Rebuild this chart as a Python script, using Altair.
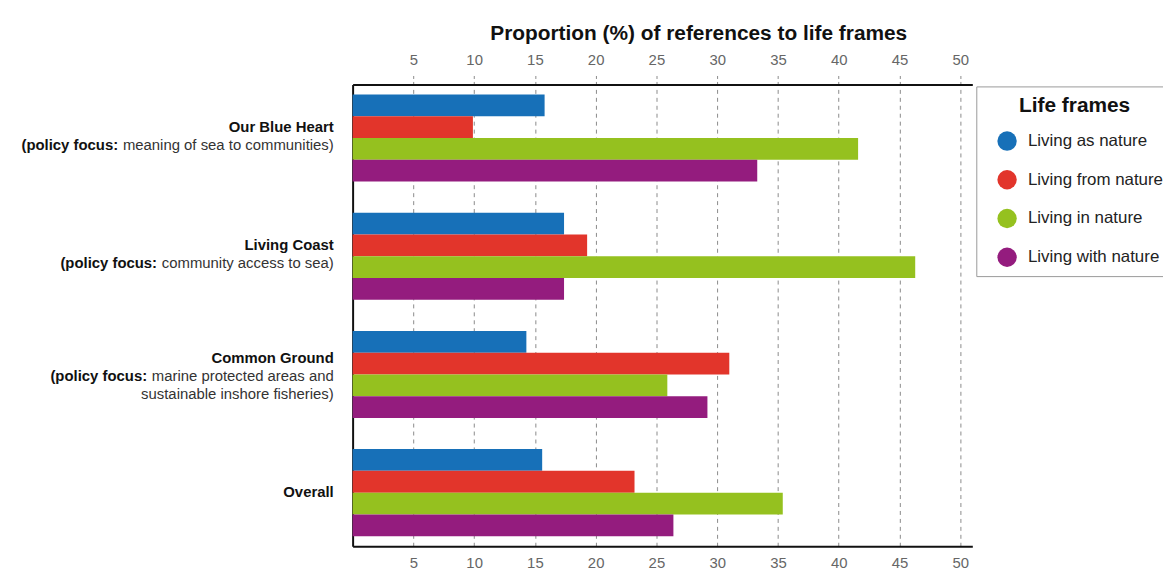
import altair as alt
import pandas as pd

groups = ["Our Blue Heart", "Living Coast", "Common Ground", "Overall"]
frames = ["Living as nature", "Living from nature", "Living in nature", "Living with nature"]
as_nature = [15.8, 17.4, 14.3, 15.6]
from_nature = [9.9, 19.3, 31.0, 23.2]
in_nature = [41.6, 46.3, 25.9, 35.4]
with_nature = [33.3, 17.4, 29.2, 26.4]
colors = ["#1770b8", "#e2352b", "#95c11f", "#941c7e"]
tick_values = [5, 10, 15, 20, 25, 30, 35, 40, 45, 50]

series = [as_nature, from_nature, in_nature, with_nature]
rows = []
for f, vals in zip(frames, series):
    for g, v in zip(groups, vals):
        rows.append({"group": g, "frame": f, "value": v})
df = pd.DataFrame(rows)

# label lines per group: (bold part, normal part)
label_lines = {
    "Our Blue Heart": [("Our Blue Heart", ""), ("(policy focus:", "meaning of sea to communities)")],
    "Living Coast": [("Living Coast", ""), ("(policy focus:", "community access to sea)")],
    "Common Ground": [("Common Ground", ""), ("(policy focus:", "marine protected areas and"),
                      ("", "sustainable inshore fisheries)")],
    "Overall": [("Overall", "")],
}

FONT = "Liberation Sans"
LABEL_SIZE = 15
W, H = 624, 465
XMAX = 51

# Arial / Liberation Sans regular advance widths (per 1000 em) for text measuring
_adv = dict(zip("abcdefghijklmnopqrstuvwxyz",
                [556, 556, 500, 556, 556, 278, 556, 556, 222, 222, 500, 222, 833,
                 556, 556, 556, 556, 333, 500, 278, 556, 500, 722, 500, 500, 500]))
_adv.update({" ": 278, "(": 333, ")": 333, ":": 278})


def text_width(s, size):
    return sum(_adv.get(c, 556) for c in s) * size / 1000.0


xscale = alt.Scale(domain=[0, XMAX], nice=False, zero=True)
yscale = alt.Scale(domain=groups, paddingInner=0.263, paddingOuter=0.085)

base = alt.Chart(df)

bars = base.mark_bar().encode(
    x=alt.X("value:Q", scale=xscale,
            axis=alt.Axis(orient="bottom", values=tick_values, title=None, grid=True,
                          gridDash=[4, 4], gridColor="#8a8a8a", gridWidth=1,
                          domainColor="#111", domainWidth=2, ticks=False,
                          labelPadding=9, labelFontSize=15, labelColor="#666",
                          labelFont=FONT)),
    y=alt.Y("group:N", scale=yscale, sort=groups,
            axis=alt.Axis(title=None, labels=False, ticks=False, domainColor="#111",
                          domainWidth=2, grid=False)),
    yOffset=alt.YOffset("frame:N", sort=frames, scale=alt.Scale(paddingInner=0, paddingOuter=0)),
    color=alt.Color("frame:N", sort=frames, scale=alt.Scale(domain=frames, range=colors),
                    legend=alt.Legend(orient="none", legendX=628, legendY=2,
                                      title="Life frames", titleFontSize=21,
                                      titleFontWeight="bold", titleColor="#111",
                                      titleFont=FONT, titleAnchor="middle", titlePadding=15,
                                      symbolType="circle", symbolSize=380,
                                      symbolStrokeWidth=0, symbolOffset=12,
                                      labelFontSize=17, labelFont=FONT, labelColor="#222",
                                      labelOffset=11, rowPadding=19, padding=9,
                                      strokeColor="#9a9a9a", cornerRadius=0,
                                      fillColor="white")),
)

top_axis = base.mark_bar(opacity=0).encode(
    x=alt.X("value:Q", scale=xscale,
            axis=alt.Axis(orient="top", values=tick_values,
                          title="Proportion (%) of references to life frames",
                          titleFontSize=21, titleFontWeight="bold", titleColor="#111",
                          titleFont=FONT, titlePadding=9, titleX=348, titleAlign="center",
                          grid=False, domainColor="#111", domainWidth=2,
                          tickSize=11, tickDash=[3, 3], tickColor="#8a8a8a",
                          labelPadding=6, labelFontSize=15, labelColor="#666",
                          labelFont=FONT)),
    y=alt.Y("group:N", scale=yscale, sort=groups),
)

layers = [bars, top_axis]

dys = {1: [-1], 2: [-11, 7], 3: [-17, 1.5, 19.5]}
for g in groups:
    lines = label_lines[g]
    for i, (b, n) in enumerate(lines):
        dy = dys[len(lines)][i]
        if n:
            layers.append(
                alt.Chart(pd.DataFrame({"group": [g], "t": [n]})).mark_text(
                    align="right", baseline="middle", dx=-19, dy=dy, fontSize=LABEL_SIZE,
                    font=FONT, color="#333").encode(
                    y=alt.Y("group:N", scale=yscale, sort=groups), x=alt.value(0), text="t:N"))
        if b:
            dx = -19 if not n else -19 - text_width(n, LABEL_SIZE) - 4.5
            layers.append(
                alt.Chart(pd.DataFrame({"group": [g], "t": [b]})).mark_text(
                    align="right", baseline="middle", dx=dx, dy=dy, fontSize=LABEL_SIZE,
                    font=FONT, fontWeight="bold", color="#111").encode(
                    y=alt.Y("group:N", scale=yscale, sort=groups), x=alt.value(0), text="t:N"))

chart = alt.layer(*layers).resolve_scale(x="shared", y="shared").resolve_axis(
    x="independent").properties(
    width=W, height=H,
    autosize=alt.AutoSizeParams(type="none"),
    padding={"left": 347, "top": 75, "right": 192, "bottom": 27},
    background="white",
).configure_view(stroke=None)

chart.save("out.html", embed_options={"renderer": "svg", "actions": False})
